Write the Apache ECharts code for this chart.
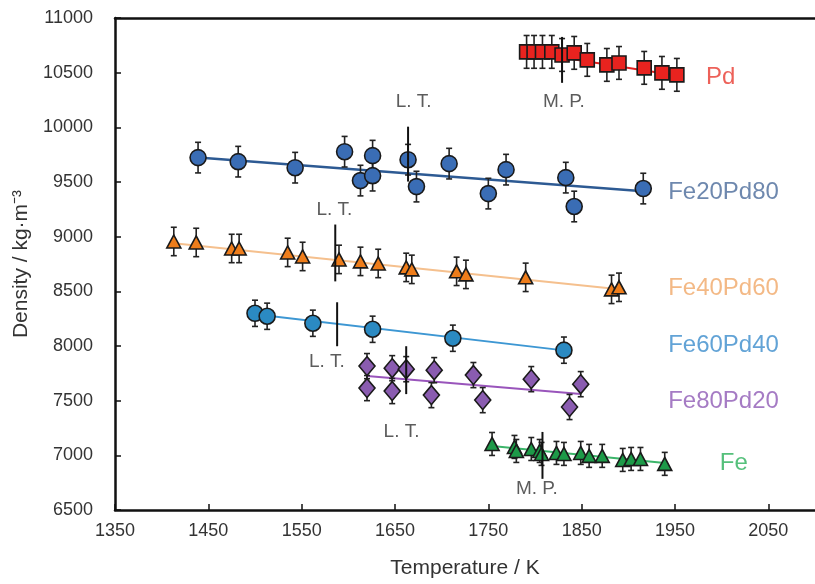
<!DOCTYPE html>
<html>
<head>
<meta charset="utf-8">
<script src="https://cdn.jsdelivr.net/npm/echarts@6/dist/echarts.min.js"></script>
<style>
  html, body { margin: 0; padding: 0; background: #fff; }
  #chart { width: 815px; height: 584px; }
</style>
</head>
<body>
<div id="chart"></div>
<script>
// measured points [temperature K, density kg/m3]
const pdData = [[1791,10690],[1799,10690],[1808,10690],[1818,10690],[1829,10662],[1842,10681],[1856,10617],[1877,10571],[1890,10589],[1917,10544],[1936,10498],[1952,10480]]
const fe20Data = [[1439,9723],[1482,9686],[1543,9631],[1596,9777],[1613,9513],[1626,9741],[1626,9558],[1664,9704],[1673,9458],[1708,9668],[1750,9394],[1769,9613],[1833,9540],[1842,9276],[1916,9440]]
const fe40Data = [[1413,8956],[1437,8947],[1475,8892],[1483,8892],[1535,8856],[1551,8819],[1590,8792],[1613,8774],[1632,8755],[1662,8719],[1668,8701],[1716,8683],[1726,8655],[1790,8628],[1882,8518],[1890,8537]]
const fe60Data = [[1500,8299],[1513,8272],[1562,8208],[1626,8153],[1712,8071],[1831,7962]]
const fe80Data = [[1620,7816],[1620,7615],[1647,7797],[1647,7588],[1662,7788],[1692,7779],[1689,7551],[1734,7734],[1744,7505],[1796,7697],[1837,7442],[1849,7651]]
const feData = [[1754,7104],[1778,7077],[1780,7040],[1796,7058],[1805,7040],[1807,7013],[1823,7022],[1831,7013],[1849,7022],[1858,6995],[1872,6995],[1894,6958],[1903,6967],[1913,6967],[1939,6922]]

// error bar half widths (kg/m3)
const pdErr = 150
const fe20Err = 140
const fe40Err = 130
const fe60Err = 120
const fe80Err = 115
const feErr = 105

// fitted lines, end points
const pdFit = [[1791,10690],[1952,10475]]
const fe20Fit = [[1439,9725],[1916,9415]]
const fe40Fit = [[1413,8940],[1890,8520]]
const fe60Fit = [[1500,8290],[1831,7960]]
const fe80Fit = [[1620,7725],[1849,7560]]
const feFit = [[1754,7085],[1939,6930]]

// vertical marks for melting point / liquidus temperature [T, D from, D to]
const marks = [[1829,10827,10407],[1664,10006,9504],[1586,9111,8591],[1588,8400,7998],[1662,7998,7560],[1808,7214,6785]]
// mark texts [T, D, text]
const markTexts = [[1831,10234,'M. P.'],[1670,10234,'L. T.'],[1585,9248,'L. T.'],[1577,7852,'L. T.'],[1657,7214,'L. T.'],[1802,6693,'M. P.']]
// series names placed at the right [T, D, name]
const names = [[1999,10453,'Pd'],[2002,9403,'Fe20Pd80'],[2002,8527,'Fe40Pd60'],[2002,8007,'Fe60Pd40'],[2002,7496,'Fe80Pd20'],[2013,6922,'Fe']]

const xTicks = { min: 1350, max: 2100, step: 100 }
const yTicks = { min: 6500, max: 11000, step: 500 }

const groups = [
  { data: pdData, err: pdErr, fit: pdFit, symbol: 'rect', size: 14, fill: '#e8231f', line: '#e02020', lw: 2, text: '#e8392f' },
  { data: fe20Data, err: fe20Err, fit: fe20Fit, symbol: 'circle', size: 16, fill: '#3a6db5', line: '#2d5a93', lw: 2.5, text: '#4a6a9a' },
  { data: fe40Data, err: fe40Err, fit: fe40Fit, symbol: 'triangle', size: [14, 13], fill: '#ee7d1b', line: '#f5c08e', lw: 2, text: '#f0a868' },
  { data: fe60Data, err: fe60Err, fit: fe60Fit, symbol: 'circle', size: 16, fill: '#2b8ac2', line: '#3d97d3', lw: 2, text: '#3b8ccc' },
  { data: fe80Data, err: fe80Err, fit: fe80Fit, symbol: 'diamond', size: [16, 19], fill: '#8a5cb0', line: '#9955bb', lw: 2, text: '#8f5ab5' },
  { data: feData, err: feErr, fit: feFit, symbol: 'triangle', size: [14, 13], fill: '#1d9a48', line: '#3cb56a', lw: 2, text: '#2bb05a' }
]

const font = 'Liberation Sans, Arial, sans-serif'
let series = []

groups.forEach(function (g) {
  // fit line
  series.push({
    type: 'line', data: g.fit, symbol: 'none', silent: true, z: 1,
    lineStyle: { color: g.line, width: g.lw }
  })
  // error bars
  series.push({
    type: 'custom', z: 2, silent: true,
    data: g.data.map(function (p) { return [p[0], p[1], g.err] }),
    encode: { x: 0, y: 1 },
    renderItem: function (params, api) {
      const x = api.value(0), y = api.value(1), e = api.value(2)
      const hi = api.coord([x, y + e])
      const lo = api.coord([x, y - e])
      const st = { stroke: '#222', lineWidth: 1.6 }
      return {
        type: 'group',
        children: [
          { type: 'line', shape: { x1: hi[0], y1: hi[1], x2: lo[0], y2: lo[1] }, style: st },
          { type: 'line', shape: { x1: hi[0] - 3, y1: hi[1], x2: hi[0] + 3, y2: hi[1] }, style: st },
          { type: 'line', shape: { x1: lo[0] - 3, y1: lo[1], x2: lo[0] + 3, y2: lo[1] }, style: st }
        ]
      }
    }
  })
  // points
  series.push({
    type: 'scatter', data: g.data, symbol: g.symbol, symbolSize: g.size, z: 3,
    itemStyle: { color: g.fill, borderColor: '#1a1a1a', borderWidth: 1.6, opacity: 1 }
  })
})

// vertical marks
marks.forEach(function (m) {
  series.push({
    type: 'line', data: [[m[0], m[1]], [m[0], m[2]]], symbol: 'none', silent: true, z: 4,
    lineStyle: { color: '#111', width: 2 }
  })
})

// M.P. / L.T. texts
series.push({
  type: 'scatter', symbolSize: 0, silent: true, z: 5,
  data: markTexts.map(function (t) { return { value: [t[0], t[1]], name: t[2] } }),
  label: { show: true, position: 'inside', formatter: '{b}', color: '#333', fontSize: 19, fontFamily: font }
})

// series names
series.push({
  type: 'scatter', symbolSize: 0, silent: true, z: 5,
  data: names.map(function (t, i) {
    return { value: [t[0], t[1]], name: t[2], label: { color: groups[i].text } }
  }),
  label: { show: true, position: 'inside', formatter: '{b}', fontSize: 24, fontFamily: font }
})

const chart = echarts.init(document.getElementById('chart'))
chart.setOption({
  animation: false,
  backgroundColor: '#fff',
  grid: { left: 115, top: 18, bottom: 71, right: 0 },
  xAxis: [{
    type: 'value', min: xTicks.min, max: xTicks.max, interval: xTicks.step,
    name: 'Temperature / K', nameLocation: 'middle', nameGap: 48,
    nameTextStyle: { fontSize: 21, color: '#333', fontFamily: font },
    axisLine: { show: true, lineStyle: { color: '#111', width: 2.5 } },
    axisTick: { show: true, inside: true, length: 6, lineStyle: { color: '#111', width: 1.5 } },
    axisLabel: { color: '#333', fontSize: 18, fontFamily: font, margin: 12, showMaxLabel: false,
      formatter: function (v) { return String(v) } },
    splitLine: { show: false }
  }, {
    type: 'value', position: 'top', min: xTicks.min, max: xTicks.max, interval: xTicks.step,
    axisLine: { show: true, lineStyle: { color: '#111', width: 2.5 } },
    axisTick: { show: false }, axisLabel: { show: false }, splitLine: { show: false }
  }],
  yAxis: {
    type: 'value', min: yTicks.min, max: yTicks.max, interval: yTicks.step,
    name: 'Density / kg·m⁻³', nameLocation: 'middle', nameGap: 77, nameRotate: 90,
    nameTextStyle: { fontSize: 21, color: '#333', fontFamily: font },
    axisLine: { show: true, lineStyle: { color: '#111', width: 2.5 } },
    axisTick: { show: true, inside: true, length: 6, lineStyle: { color: '#111', width: 1.5 } },
    axisLabel: { color: '#333', fontSize: 18, fontFamily: font, margin: 22,
      formatter: function (v) { return String(v) } },
    splitLine: { show: false }
  },
  series: series
})
</script>
</body>
</html>
